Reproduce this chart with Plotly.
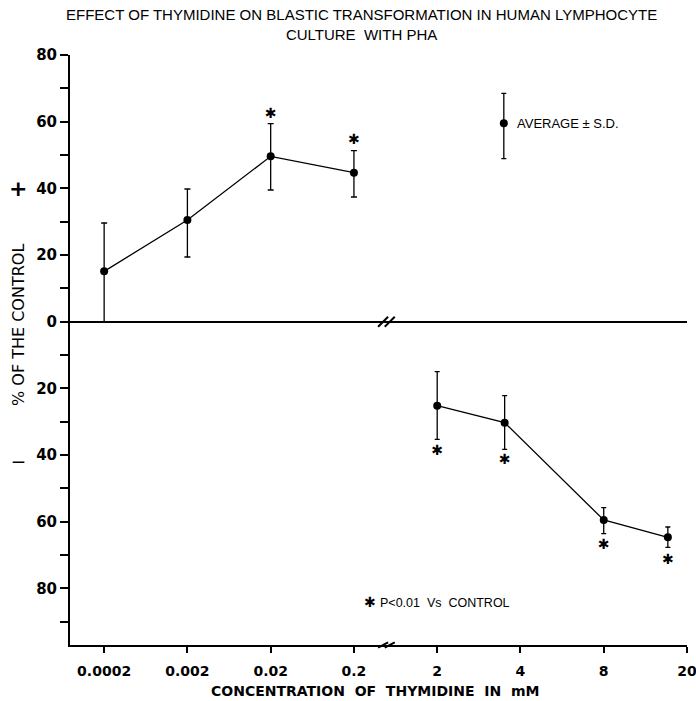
import plotly.graph_objects as go

# ---- data ----
conc_labels = ["0.0002", "0.002", "0.02", "0.2", "2", "4", "8", "20"]
conc_pos = [0, 1, 2, 3, 4, 5, 6, 7]

up_x = [0, 1, 2, 3]
up_mean = [15.1, 30.5, 49.6, 44.7]
up_hi = [29.6, 39.8, 59.4, 51.3]
up_lo = [0.0, 19.4, 39.5, 37.4]

low_x = [4, 4.81, 6, 6.77]
low_mean = [-25.2, -30.3, -59.5, -64.7]
low_hi = [-15.0, -22.2, -55.8, -61.6]
low_lo = [-35.3, -38.3, -63.6, -67.7]

sig_up_x = [2, 3]
sig_up_y = [62.3, 54.3]
sig_low_x = [4, 4.81, 6, 6.77]
sig_low_y = [-39.0, -41.7, -67.0, -71.5]

key_x = [4.8]
key_mean = [59.5]
key_hi = [68.5]
key_lo = [48.9]

y_ticks = [-80, -60, -40, -20, 0, 20, 40, 60, 80]
y_ticktext = ["80", "60", "40", "20", "0", "20", "40", "60", "80"]

break_x = 3.39

FONT = "Liberation Sans"
FONT2 = "DejaVu Sans"


def err(mean, hi, lo):
    return ([h - m for h, m in zip(hi, mean)], [m - l for m, l in zip(mean, lo)])


fig = go.Figure()


def series(x, mean, hi, lo, cap):
    p, m = err(mean, hi, lo)
    fig.add_trace(go.Scatter(
        x=x, y=mean, mode="lines+markers",
        line=dict(color="black", width=1.3),
        marker=dict(color="black", size=8),
        error_y=dict(type="data", symmetric=False, array=p, arrayminus=m,
                     color="black", thickness=1.3, width=cap),
        showlegend=False, hoverinfo="skip"))


series(up_x, up_mean, up_hi, up_lo, 3)
series(low_x, low_mean, low_hi, low_lo, 2.5)
series(key_x, key_mean, key_hi, key_lo, 2.5)

fig.add_trace(go.Scatter(
    x=sig_up_x + sig_low_x + [3.19], y=sig_up_y + sig_low_y + [-84.4],
    mode="text", text=["✱"] * 7,
    textfont=dict(family=FONT2, size=14, color="black"),
    showlegend=False, hoverinfo="skip"))

# break marks on the zero line and on the x axis
for yv, yr in [(0, "y"), (0, "paper")]:
    for dx in (-0.04, 0.04):
        fig.add_shape(type="line", xref="x", yref=yr,
                      x0=break_x + dx - 0.06, x1=break_x + dx + 0.06,
                      y0=yv - (1.5 if yr == "y" else 0.0045),
                      y1=yv + (1.5 if yr == "y" else 0.0045),
                      line=dict(color="black", width=2))

ann = []
ann.append(dict(text="EFFECT OF THYMIDINE ON BLASTIC TRANSFORMATION IN HUMAN LYMPHOCYTE<br>CULTURE  WITH PHA",
                xref="paper", yref="paper", x=(361 - 70) / 617, y=1.0, yshift=10,
                xanchor="center", yanchor="bottom", showarrow=False,
                font=dict(family=FONT, size=15, color="black")))
ann.append(dict(text="CONCENTRATION  OF  THYMIDINE  IN  mM",
                xref="paper", yref="paper", x=(375 - 70) / 617, y=0, yshift=-36,
                xanchor="center", yanchor="top", showarrow=False,
                font=dict(family=FONT2, size=14, color="black", weight="bold")))
ann.append(dict(text="% OF THE CONTROL", textangle=-90,
                xref="paper", yref="y", x=(18 - 70) / 617, y=-1,
                xanchor="center", yanchor="middle", showarrow=False,
                font=dict(family=FONT2, size=16, color="black")))
ann.append(dict(text="<b>+</b>", xref="paper", yref="y", x=(18 - 70) / 617, y=40,
                xanchor="center", yanchor="middle", showarrow=False,
                font=dict(family=FONT2, size=22, color="black")))
ann.append(dict(text="<b>—</b>", xref="paper", yref="y", x=(18 - 70) / 617, y=-42,
                xanchor="center", yanchor="middle", showarrow=False,
                font=dict(family=FONT2, size=13, color="black")))
ann.append(dict(text="AVERAGE ± S.D.", xref="x", yref="y", x=4.93, y=59.5,
                xanchor="left", yanchor="middle", showarrow=False,
                font=dict(family=FONT, size=13, color="black")))
ann.append(dict(text="P<0.01  Vs  CONTROL", xref="x", yref="y", x=3.29, y=-84.4,
                xanchor="left", yanchor="middle", showarrow=False,
                font=dict(family=FONT, size=12.5, color="black")))

fig.update_layout(
    width=696, height=701,
    margin=dict(l=70, r=9, t=55, b=56),
    paper_bgcolor="white", plot_bgcolor="white",
    font=dict(family=FONT, size=14, color="black"),
    annotations=ann,
    xaxis=dict(range=[-0.41, 7.0], tickvals=conc_pos, ticktext=conc_labels,
               showgrid=False, zeroline=False, showline=True, linecolor="black",
               linewidth=2, ticks="outside", ticklen=6, tickwidth=1.5,
               tickcolor="black", ticklabelstandoff=6, ticklabeloverflow="allow",
               automargin=False,
               tickfont=dict(family=FONT2, size=14, weight="bold")),
    yaxis=dict(range=[-97, 80], tickvals=y_ticks, ticktext=y_ticktext,
               showgrid=False, zeroline=True, zerolinecolor="black",
               zerolinewidth=2, showline=True, linecolor="black", linewidth=2,
               ticks="outside", ticklen=8, tickwidth=1.5, tickcolor="black",
               automargin=False,
               tickfont=dict(family=FONT2, size=15, weight="bold"),
               minor=dict(tickvals=[-90, -70, -50, -30, -10, 10, 30, 50, 70],
                          ticks="outside", ticklen=8, tickwidth=1.5,
                          tickcolor="black")),
)

fig.write_html("out.html", config={"displayModeBar": False},
               post_script="document.body.style.margin='0px';document.body.style.overflow='hidden';")
